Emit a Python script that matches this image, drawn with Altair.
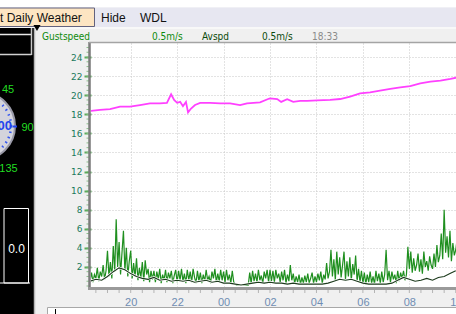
import altair as alt
import pandas as pd

# ---------------- data ----------------
# temperature-like magenta trace: hour (18 = 18:00, 24 = 00:00 next day) and value
temp_time = [18.25, 18.68, 19.11, 19.54, 19.97, 20.40, 20.83, 21.26, 21.56, 21.74,
             21.87, 22.0, 22.13, 22.25, 22.38, 22.47, 22.60, 22.77, 22.99, 23.42,
             23.85, 24.28, 24.71, 25.01, 25.57, 25.92, 26.0, 26.31, 26.48, 26.74,
             27.0, 27.3, 27.6, 28.03, 28.59, 29.02, 29.45, 29.88, 30.31, 30.74,
             31.18, 31.61, 32.04, 32.47, 32.91, 33.34, 33.77, 34.03]
temp_val = [18.34, 18.45, 18.55, 18.8, 18.8, 18.97, 19.15, 19.15, 19.2, 20.1,
            19.5, 19.2, 19.3, 18.85, 19.3, 18.2, 18.6, 18.97, 19.2, 19.2,
            19.15, 19.15, 18.97, 19.15, 19.25, 19.6, 19.67, 19.6, 19.3, 19.57,
            19.3, 19.4, 19.4, 19.46, 19.5, 19.6, 19.85, 20.2, 20.3, 20.47,
            20.65, 20.83, 20.96, 21.25, 21.42, 21.52, 21.7, 21.84]

# gust speed, sampled every 3.75 minutes from 18:15
gust_start = 18.25
gust_step = 0.0625
gust_val = [0.6, 1.4, 0.4, 1.2, 0.8, 1.9, 0.5, 1.5, 1.0, 2.2, 0.7, 1.6,
            3.7, 1.0, 2.5, 0.8, 4.2, 1.5, 7.0, 2.0, 4.6, 1.2, 3.5, 5.8, 1.6, 4.0, 1.0, 2.6,
            3.7, 0.8, 2.4, 1.0, 2.9, 0.6, 1.9, 0.9, 2.5, 0.5, 2.7, 1.2, 1.8, 0.4, 1.6, 0.7,
            1.6, 0.4, 1.5, 0.7, 1.8, 0.3, 1.2, 0.6, 1.7, 0.4, 1.4, 0.8, 1.6, 0.3, 1.1, 1.7,
            0.4, 1.6, 0.6, 1.8, 0.5, 1.3, 0.3, 1.7, 0.6, 1.5, 0.4, 1.8, 0.9, 0.3, 1.6, 0.5,
            1.4, 0.3, 1.2, 0.5, 1.7, 0.6, 1.0, 0.3, 1.5, 0.8, 1.8, 0.4, 1.3, 0.5, 1.7, 0.6,
            1.5, 0.4, 1.7, 0.6, 1.2, 0.3, 1.6, 0.4, 0.2, 0.1, 0.1, 0.1, 0.1, 0.1, 0.1, 0.1,
            0.1, 0.1, 1.4, 0.3, 1.6, 0.5, 1.3, 0.4, 1.7, 0.6, 1.1, 0.3, 1.5, 0.8, 1.7, 0.4,
            1.7, 0.5, 1.6, 0.4, 1.7, 0.8, 1.3, 0.4, 1.5, 0.6, 1.7, 0.3, 1.2, 0.5, 2.2, 0.6,
            1.3, 0.3, 1.0, 0.4, 1.2, 0.2, 0.9, 0.3, 1.1, 0.4, 1.3, 0.3, 0.8, 1.4, 0.3, 1.0,
            0.4, 1.3, 0.6, 1.5, 0.3, 1.2, 0.7, 2.4, 0.8, 1.5, 3.8, 1.0, 2.8, 0.6, 3.6, 1.2,
            3.0, 0.9, 2.2, 3.6, 0.7, 2.6, 1.0, 3.0, 0.6, 2.3, 1.2, 3.2, 0.5, 1.8, 0.4, 1.6,
            0.3, 1.4, 0.2, 1.2, 0.4, 1.5, 0.3, 1.0, 0.2, 1.6, 0.5, 1.3, 0.3, 1.5, 0.4, 1.2,
            3.8, 0.6, 1.6, 0.4, 1.5, 0.7, 1.2, 0.3, 1.6, 0.5, 1.4, 0.8, 1.6, 0.6, 1.2, 4.1,
            1.8, 3.6, 1.4, 2.9, 1.6, 2.2, 3.4, 1.5, 2.8, 1.3, 3.6, 2.0, 2.6, 1.6, 3.1, 2.2,
            1.8, 3.4, 2.0, 4.3, 2.5, 3.2, 5.5, 2.8, 8.0, 3.5, 5.2, 3.0, 5.8, 2.6, 4.5, 3.2,
            3.8, 5.0, 3.5]

# average speed, sampled every 15 minutes from 18:15
avg_start = 18.25
avg_step = 0.25
avg_val = [0.5, 0.7, 0.6, 1.0, 1.5, 1.9, 1.7, 1.3,
           1.0, 0.8, 0.7, 0.9, 0.6, 0.7, 0.5, 0.6,
           0.5, 0.6, 0.4, 0.5, 0.6, 0.4, 0.5, 0.3,
           0.3, 0.2, 0.1, 0.2, 0.3, 0.4, 0.3, 0.4,
           0.3, 0.3, 0.2, 0.3, 0.2, 0.2, 0.2, 0.2,
           0.2, 0.3, 0.5, 0.7, 0.6, 0.7, 0.5, 0.3,
           0.2, 0.2, 0.2, 0.2, 0.3, 0.6, 0.9, 0.7,
           0.5, 0.6, 0.8, 0.6, 0.9, 1.0, 1.3, 1.6]

x_ticks = [20, 22, 24, 26, 28, 30, 32, 34]
y_ticks = [2, 4, 6, 8, 10, 12, 14, 16, 18, 20, 22, 24]
y_minor = [i * 0.5 for i in range(0, 51)]
x_minor = [18.5 + i * 0.5 for i in range(0, 32)]

header_labels = ["Gustspeed", "0.5m/s", "Avspd", "0.5m/s", "18:33"]
gauge_labels = ["45", "90", "135"]
menu_labels = ["t Daily Weather", "Hide", "WDL"]
value_box_label = "0.0"

# ---------------- layout ----------------
L, T = 91, 43          # plot origin on the page
W, H = 365, 246        # plot size
xs = alt.Scale(domain=[18.29, 34.01], nice=False, zero=False)
ys = alt.Scale(domain=[-0.314, 25.47], nice=False, zero=False)

gust_df = pd.DataFrame({"t": [gust_start + gust_step * i for i in range(len(gust_val))],
                        "v": gust_val})
avg_df = pd.DataFrame({"t": [avg_start + avg_step * i for i in range(len(avg_val))],
                       "v": avg_val})
temp_df = pd.DataFrame({"t": temp_time, "v": temp_val})
one = pd.DataFrame({"k": [0]})

x_axis = alt.Axis(values=x_ticks, title=None, domain=False, ticks=False,
                  labelExpr="(datum.value % 24 < 10 ? '0' : '') + (datum.value % 24)",
                  labelPadding=13, labelBaseline="middle", labelColor="#6f8db3",
                  labelFont="Liberation Sans", labelFontSize=11, labelFlush=False,
                  labelOverlap=False, grid=True, gridColor="#c6c6c6",
                  gridDash=[1, 2], gridWidth=1)
y_axis = alt.Axis(values=y_ticks, title=None, domain=False, ticks=True, tickSize=7,
                  tickWidth=2, tickColor="#5aaa5a", labelPadding=2,
                  labelColor="#1b7a5c", labelFont="DejaVu Sans", labelFontSize=9,
                  labelOverlap=False, grid=True, gridColor="#c6c6c6",
                  gridDash=[1, 2], gridWidth=1)

X = alt.X("t:Q", scale=xs, axis=x_axis)
Y = alt.Y("v:Q", scale=ys, axis=y_axis)

gust = alt.Chart(gust_df).mark_line(color="#1f8f1f", strokeWidth=1.2, clip=True).encode(x=X, y=Y)
avg_halo = alt.Chart(avg_df).mark_line(color="white", strokeWidth=2.5, clip=True).encode(x=X, y=Y)
avg = alt.Chart(avg_df).mark_line(color="#1c3a1c", strokeWidth=1.1, clip=True).encode(x=X, y=Y)
temp = alt.Chart(temp_df).mark_line(color="#ff40ff", strokeWidth=1.8, clip=True).encode(x=X, y=Y)

ymin = alt.Chart(pd.DataFrame({"v": y_minor})).mark_rule(color="#8cc08c", strokeWidth=1).encode(
    y=Y, x=alt.value(-4.5), x2=alt.value(-2))
xmin = alt.Chart(pd.DataFrame({"t": x_minor})).mark_rule(color="#b4b4b4", strokeWidth=1).encode(
    x=X, y=alt.value(H + 1), y2=alt.value(H + 4))


def R(x1, y1, x2, y2, fill, stroke=None, sw=1):
    m = dict(fill=fill)
    if stroke:
        m.update(stroke=stroke, strokeWidth=sw)
    return alt.Chart(one).mark_rect(**m).encode(
        x=alt.value(x1 - L), x2=alt.value(x2 - L),
        y=alt.value(y1 - T), y2=alt.value(y2 - T))


def LN(x1, y1, x2, y2, color, sw=1):
    return alt.Chart(one).mark_rule(color=color, strokeWidth=sw).encode(
        x=alt.value(x1 - L), x2=alt.value(x2 - L),
        y=alt.value(y1 - T), y2=alt.value(y2 - T))


def TX(s, x, y, color, size, font="Liberation Sans", align="left", weight="normal"):
    return alt.Chart(one).mark_text(text=s, align=align, baseline="middle", color=color,
                                    fontSize=size, font=font, fontWeight=weight).encode(
        x=alt.value(x - L), y=alt.value(y - T))


def PT(x, y, size, shape="circle", fill=None, stroke=None, sw=1, dash=None):
    m = dict(shape=shape, size=size, opacity=1)
    if fill:
        m.update(filled=True, fill=fill, fillOpacity=1)
    else:
        m.update(filled=False)
    if stroke:
        m.update(stroke=stroke, strokeWidth=sw, strokeOpacity=1)
    if dash:
        m.update(strokeDash=dash)
    return alt.Chart(one).mark_point(**m).encode(x=alt.value(x - L), y=alt.value(y - T))


narrow = "Liberation Sans Narrow, Arial Narrow, DejaVu Sans Condensed, Liberation Sans"

deco = [
    # plot frame
    LN(89.5, 42, 89.5, 290, "#7c7c7c", 2.5),
    LN(89, 288.5, 456, 288.5, "#9a9a9a", 3),
    LN(89, 42.5, 456, 42.5, "#a4a4a4", 1.5),
    # menu bar
    R(0, 0, 456, 7.5, "#ffffff"),
    R(0, 7.5, 456, 27, "#e7e7f1"),
    LN(0, 28, 456, 28, "#fbfbfb", 1.5),
    R(-2, 8, 94.5, 26.5, "#fde5c2", "#62627e", 1),
    TX(menu_labels[0], 0, 17.5, "#111111", 12),
    TX(menu_labels[1], 101, 17.5, "#111111", 12),
    TX(menu_labels[2], 140, 17.5, "#111111", 12),
    # header texts
    TX(header_labels[0], 42, 36.5, "#0d8a0d", 10, narrow),
    TX(header_labels[1], 152, 36.5, "#0d8a0d", 10, narrow),
    TX(header_labels[2], 202, 36.5, "#0b4a0b", 10, narrow),
    TX(header_labels[3], 262, 36.5, "#0b4a0b", 10, narrow),
    TX(header_labels[4], 312, 36.5, "#8a8a8a", 10, narrow),
    # left black panel
    R(0, 28, 34, 314, "#000000"),
    LN(34.5, 28, 34.5, 314, "#b8b8b8", 1.5),
    PT(37, 28, 50, "triangle-down", fill="#000000"),
    LN(0, 34.5, 31.5, 34.5, "#e8e8e8", 1.5),
    LN(0, 54.5, 31.5, 54.5, "#d0d0d0", 1.5),
    LN(31.5, 28, 31.5, 55, "#c8c8c8", 1.5),
    # gauge
    PT(-19, 126, 4624, "circle", fill="#d4d4dc", stroke="#9a9aa8", sw=2),
    PT(-19, 126, 3600, "circle", stroke="#3355ee", sw=2.5, dash=[1.5, 4]),
    TX("00", 12, 126, "#2244ee", 13, align="right", weight="bold"),
    LN(12.5, 126.5, 17, 126.5, "#2244ee", 2),
    TX(gauge_labels[0], 8, 90, "#22dd22", 11, align="center"),
    TX(gauge_labels[1], 27.5, 128, "#22dd22", 11, align="center"),
    TX(gauge_labels[2], 8.5, 168.5, "#22dd22", 11, align="center"),
    # value box
    R(4, 208.5, 28.5, 283, "#000000", "#ffffff", 1),
    TX(value_box_label, 16.5, 249, "#ffffff", 12, align="center"),
    LN(0, 283, 30, 283, "#ffffff", 1),
    # bottom strip
    R(47.5, 307.5, 457, 315, "#ffffff", "#a8a8a8", 1),
    LN(55.5, 309, 55.5, 314, "#000000", 1),
]

chart = alt.layer(gust, avg_halo, avg, temp, ymin, xmin, *deco).properties(
    width=W, height=H,
    padding={"left": L, "top": T, "right": 0, "bottom": 314 - T - H},
    autosize=alt.AutoSizeParams(type="none"),
    background="#f0f0f0",
).configure_view(fill="white", strokeWidth=0)

chart.save("out.html", embed_options={"renderer": "svg", "actions": False})
